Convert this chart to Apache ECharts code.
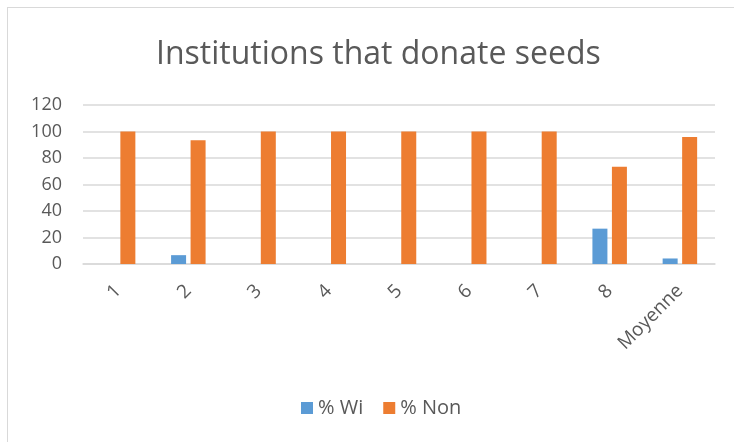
<!DOCTYPE html>
<html>
<head>
<meta charset="utf-8">
<script src="https://cdn.jsdelivr.net/npm/echarts@6/dist/echarts.min.js"></script>
<style>
  html, body { margin: 0; padding: 0; background: #fff; }
  #frame {
    position: absolute; left: 7px; top: 7px; width: 740px; height: 450px;
    border: 1.5px solid #d9d9d9; box-sizing: border-box;
  }
  #chart { position: absolute; left: 0; top: 0; width: 734px; height: 442px; }
</style>
</head>
<body>
<div id="frame"></div>
<div id="chart"></div>
<script>
const categories = ['1', '2', '3', '4', '5', '6', '7', '8', 'Moyenne'];
const wiValues = [0, 6.67, 0, 0, 0, 0, 0, 26.67, 4.17];
const nonValues = [100, 93.33, 100, 100, 100, 100, 100, 73.33, 95.83];
const yTicks = { min: 0, max: 120, interval: 20 };

const textColor = '#595959';
const font = '"Open Sans", "Liberation Sans", sans-serif';

const chart = echarts.init(document.getElementById('chart'));
chart.setOption({
  animation: false,
  color: ['#5B9BD5', '#ED7D31'],
  title: {
    text: 'Institutions that donate seeds',
    left: 151,
    top: 34,
    textStyle: { color: textColor, fontSize: 32, fontWeight: 'normal', fontFamily: font }
  },
  legend: {
    top: 393,
    left: 296,
    itemWidth: 12,
    itemHeight: 12,
    itemGap: 20,
    icon: 'rect',
    textStyle: { color: textColor, fontSize: 20, fontFamily: font },
    data: ['% Wi', '% Non']
  },
  grid: { left: 83, right: 19, top: 105, bottom: 178 },
  xAxis: {
    type: 'category',
    data: categories,
    axisLine: { lineStyle: { color: '#d9d9d9', width: 1.5 } },
    axisTick: { show: false },
    axisLabel: {
      rotate: 45,
      margin: 24,
      color: textColor,
      fontSize: 19,
      fontFamily: font
    }
  },
  yAxis: {
    type: 'value',
    min: yTicks.min,
    max: yTicks.max,
    interval: yTicks.interval,
    axisLine: { show: false },
    axisTick: { show: false },
    splitLine: { lineStyle: { color: '#d9d9d9', width: 1.5 } },
    axisLabel: { color: textColor, fontSize: 18, fontFamily: font, margin: 21 }
  },
  series: [
    {
      name: '% Wi',
      type: 'bar',
      data: wiValues,
      barWidth: 15,
      barGap: '30%'
    },
    {
      name: '% Non',
      type: 'bar',
      data: nonValues,
      barWidth: 15,
      barGap: '30%'
    }
  ]
});
</script>
</body>
</html>
